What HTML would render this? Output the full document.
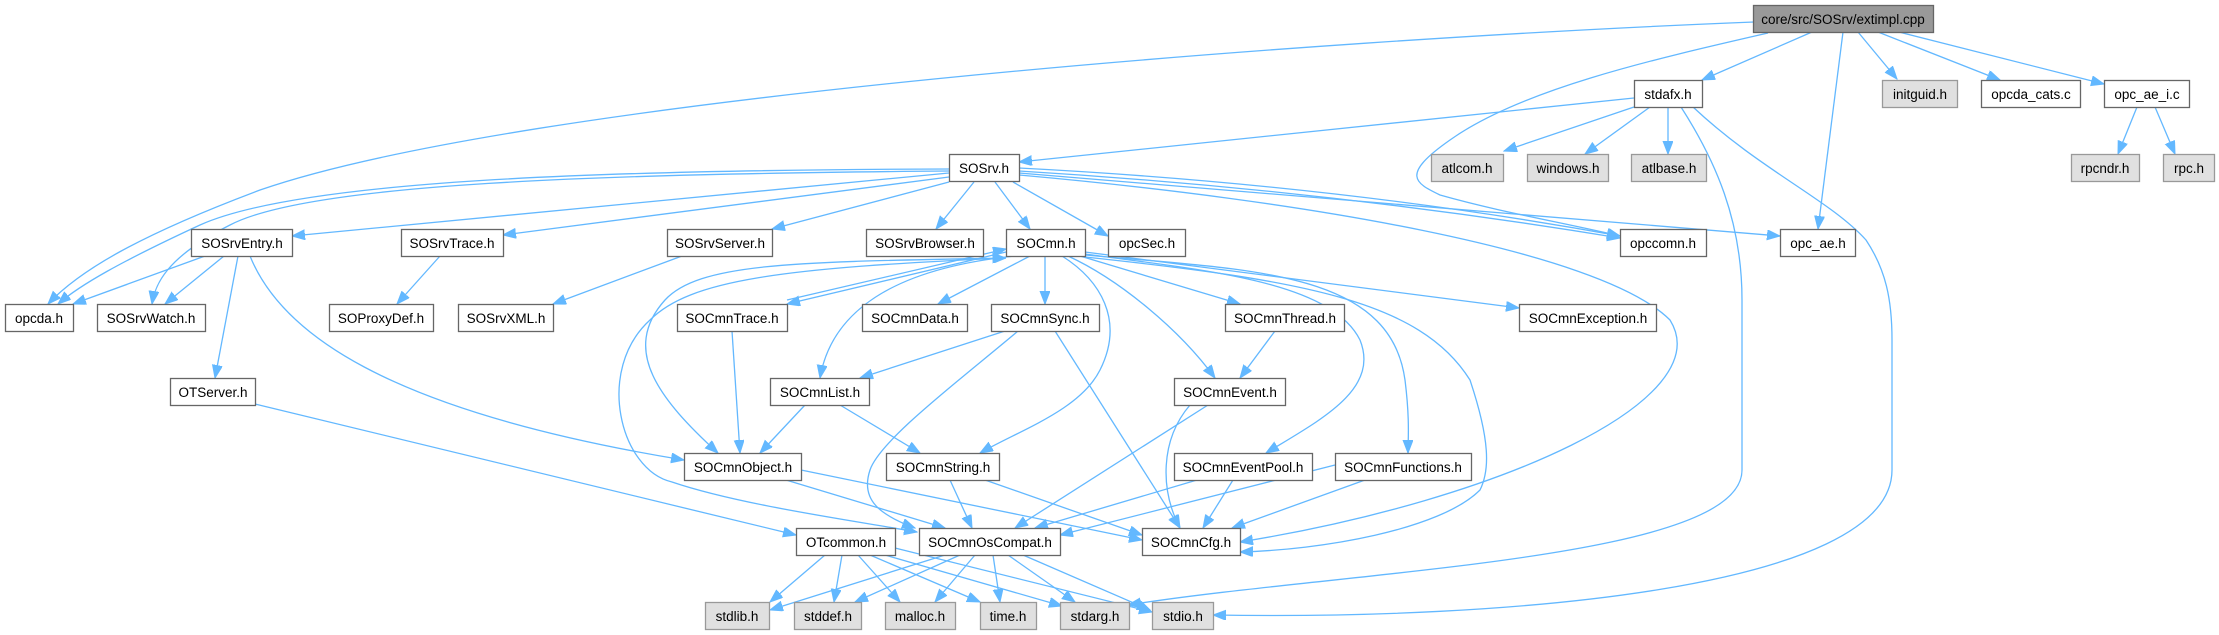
<!DOCTYPE html>
<html><head><meta charset="utf-8"><style>
html,body{margin:0;padding:0;background:#fff;width:2219px;height:635px;overflow:hidden}
svg{display:block}
text{font-family:"Liberation Sans",Helvetica,Arial,sans-serif;font-size:13.5px;fill:#000;text-anchor:middle}
.n{fill:#fff;stroke:#666;stroke-width:1.3}
.g{fill:#e0e0e0;stroke:#999;stroke-width:1.3}
.m{fill:#999;stroke:#666;stroke-width:1.3}
path{fill:none;stroke:#63b8ff;stroke-width:1.3}
</style></head><body>
<svg width="2219" height="635" viewBox="0 0 2219 635" xmlns="http://www.w3.org/2000/svg">
<defs>
<marker id="a" markerUnits="userSpaceOnUse" markerWidth="14" markerHeight="12" refX="13" refY="5" orient="auto"><path d="M0,0 L13,5 L0,10 Z" style="fill:#63b8ff;stroke:#63b8ff;stroke-width:1"/></marker>
<marker id="s" markerUnits="userSpaceOnUse" markerWidth="14" markerHeight="12" refX="0" refY="5" orient="auto"><path d="M13,0 L0,5 L13,10 Z" style="fill:#63b8ff;stroke:#63b8ff;stroke-width:1"/></marker>
</defs>
<g marker-end="url(#a)">
<path d="M1754,22 C1300,40 520,100 260,190 C140,235 80,270 48,304"/>
<path d="M1812,32 L1702,80"/>
<path d="M1768,33 C1650,60 1520,90 1450,140 C1400,175 1415,183 1440,195 C1500,212 1560,222 1620,236"/>
<path d="M1843,32 L1818,229"/>
<path d="M1858,32 L1897,79"/>
<path d="M1878,32 L2000,80"/>
<path d="M1899,32 L2104,84"/>
<path d="M1634,98 L1019,162"/>
<path d="M1634,107 L1504,151"/>
<path d="M1650,107 L1585,154"/>
<path d="M1668,107 L1668,154"/>
<path d="M1681,107 C1715,160 1742,220 1742,300 L1742,470 C1742,560 1350,570 1128,605"/>
<path d="M1693,107 C1760,170 1830,200 1866,240 C1886,270 1892,300 1892,340 L1892,470 C1892,590 1500,620 1213,615"/>
<path d="M2137,107 L2118,154"/>
<path d="M2155,107 L2175,154"/>
<path d="M949,169 C600,170 300,180 200,225 C120,262 80,285 58,304"/>
<path d="M949,171 C600,174 310,183 230,225 C165,258 155,285 152,304"/>
<path d="M949,173 L292,236"/>
<path d="M949,177 L503,235"/>
<path d="M949,182 L772,229"/>
<path d="M974,182 L936,229"/>
<path d="M995,182 L1030,229"/>
<path d="M1013,182 L1108,236"/>
<path d="M1019,168 C1250,180 1450,205 1620,236"/>
<path d="M1019,171 C1250,185 1450,210 1620,238"/>
<path d="M1019,173 C1300,195 1550,215 1780,236"/>
<path d="M1019,175 C1300,200 1600,250 1670,320 C1720,400 1500,500 1240,542"/>
<path d="M205,256 L73,304"/>
<path d="M224,256 L165,304"/>
<path d="M238,256 L215,378"/>
<path d="M250,256 C280,330 380,410 684,460"/>
<path d="M440,256 L397,304"/>
<path d="M682,256 L553,304"/>
<path d="M255,404 L796,535"/>
<path d="M1006,252 L787,304"/>
<path d="M787,300 L1006,249" />
<path d="M1006,258 C800,262 700,262 665,300 C620,350 660,400 718,453" marker-start="url(#s)"/>
<path d="M1006,258 C780,268 690,280 650,320 C595,370 620,470 672,482 C740,505 850,520 917,532"/>
<path d="M1015,256 C880,270 830,320 820,378"/>
<path d="M1030,256 L938,304"/>
<path d="M1045,256 L1045,304"/>
<path d="M1062,256 C1100,280 1125,320 1100,370 C1080,410 1020,430 980,453"/>
<path d="M1068,256 C1120,280 1180,330 1215,378"/>
<path d="M1080,256 L1240,304"/>
<path d="M1085,254 C1200,270 1330,280 1360,340 C1380,390 1320,420 1266,453"/>
<path d="M1085,255 C1250,270 1390,270 1405,380 C1410,420 1408,440 1408,453"/>
<path d="M1085,252 L1519,308"/>
<path d="M1085,257 C1300,280 1420,300 1470,380 C1490,440 1490,470 1480,490 C1440,530 1320,550 1240,552"/>
<path d="M732,331 L740,453"/>
<path d="M1005,331 L860,378"/>
<path d="M1018,331 C960,380 880,440 870,470 C860,500 880,515 915,528"/>
<path d="M1055,331 L1180,528"/>
<path d="M805,405 L760,453"/>
<path d="M840,405 L920,453"/>
<path d="M1275,331 L1240,378"/>
<path d="M1208,405 L1015,528"/>
<path d="M1190,405 C1160,440 1160,490 1180,528"/>
<path d="M786,480 L945,528"/>
<path d="M801,470 L1142,540"/>
<path d="M950,480 L972,528"/>
<path d="M985,480 L1142,535"/>
<path d="M1197,480 L1035,528"/>
<path d="M1233,480 L1203,528"/>
<path d="M1335,465 L1060,535"/>
<path d="M1365,480 L1232,528"/>
<path d="M825,555 L770,602"/>
<path d="M842,555 L834,602"/>
<path d="M858,555 L900,602"/>
<path d="M870,555 L980,602"/>
<path d="M885,555 L1062,606"/>
<path d="M895,548 L1152,612"/>
<path d="M945,555 L770,610"/>
<path d="M960,555 L855,602"/>
<path d="M975,555 L935,602"/>
<path d="M993,555 L1000,602"/>
<path d="M1008,555 L1075,602"/>
<path d="M1023,555 L1150,610"/>
</g>
<rect class="m" x="1753.5" y="5.5" width="180" height="27"/><text x="1843" y="24">core/src/SOSrv/extimpl.cpp</text>
<rect class="n" x="1634.5" y="80.5" width="68" height="27"/><text x="1668" y="99">stdafx.h</text>
<rect class="g" x="1882.5" y="80.5" width="75" height="27"/><text x="1920" y="99">initguid.h</text>
<rect class="n" x="1981.5" y="80.5" width="99" height="27"/><text x="2031" y="99">opcda_cats.c</text>
<rect class="n" x="2104.5" y="80.5" width="85" height="27"/><text x="2147" y="99">opc_ae_i.c</text>
<rect class="n" x="949.5" y="154.5" width="70" height="27"/><text x="984" y="173">SOSrv.h</text>
<rect class="g" x="1431.5" y="154.5" width="72" height="27"/><text x="1467" y="173">atlcom.h</text>
<rect class="g" x="1527.5" y="154.5" width="81" height="27"/><text x="1568" y="173">windows.h</text>
<rect class="g" x="1631.5" y="154.5" width="75" height="27"/><text x="1669" y="173">atlbase.h</text>
<rect class="g" x="2071.5" y="154.5" width="68" height="27"/><text x="2105" y="173">rpcndr.h</text>
<rect class="g" x="2163.5" y="154.5" width="51" height="27"/><text x="2189" y="173">rpc.h</text>
<rect class="n" x="191.5" y="229.5" width="101" height="27"/><text x="242" y="248">SOSrvEntry.h</text>
<rect class="n" x="401.5" y="229.5" width="102" height="27"/><text x="452" y="248">SOSrvTrace.h</text>
<rect class="n" x="667.5" y="229.5" width="105" height="27"/><text x="720" y="248">SOSrvServer.h</text>
<rect class="n" x="866.5" y="229.5" width="117" height="27"/><text x="925" y="248">SOSrvBrowser.h</text>
<rect class="n" x="1006.5" y="229.5" width="79" height="27"/><text x="1046" y="248">SOCmn.h</text>
<rect class="n" x="1108.5" y="229.5" width="77" height="27"/><text x="1147" y="248">opcSec.h</text>
<rect class="n" x="1620.5" y="229.5" width="86" height="27"/><text x="1663" y="248">opccomn.h</text>
<rect class="n" x="1780.5" y="229.5" width="75" height="27"/><text x="1818" y="248">opc_ae.h</text>
<rect class="n" x="5.5" y="304.5" width="68" height="27"/><text x="39" y="323">opcda.h</text>
<rect class="n" x="97.5" y="304.5" width="108" height="27"/><text x="151" y="323">SOSrvWatch.h</text>
<rect class="n" x="329.5" y="304.5" width="104" height="27"/><text x="381" y="323">SOProxyDef.h</text>
<rect class="n" x="458.5" y="304.5" width="95" height="27"/><text x="506" y="323">SOSrvXML.h</text>
<rect class="n" x="677.5" y="304.5" width="110" height="27"/><text x="732" y="323">SOCmnTrace.h</text>
<rect class="n" x="862.5" y="304.5" width="105" height="27"/><text x="915" y="323">SOCmnData.h</text>
<rect class="n" x="991.5" y="304.5" width="108" height="27"/><text x="1045" y="323">SOCmnSync.h</text>
<rect class="n" x="1225.5" y="304.5" width="119" height="27"/><text x="1285" y="323">SOCmnThread.h</text>
<rect class="n" x="1519.5" y="304.5" width="137" height="27"/><text x="1588" y="323">SOCmnException.h</text>
<rect class="n" x="170.5" y="378.5" width="85" height="27"/><text x="213" y="397">OTServer.h</text>
<rect class="n" x="770.5" y="378.5" width="99" height="27"/><text x="820" y="397">SOCmnList.h</text>
<rect class="n" x="1174.5" y="378.5" width="111" height="27"/><text x="1230" y="397">SOCmnEvent.h</text>
<rect class="n" x="684.5" y="453.5" width="117" height="27"/><text x="743" y="472">SOCmnObject.h</text>
<rect class="n" x="886.5" y="453.5" width="113" height="27"/><text x="943" y="472">SOCmnString.h</text>
<rect class="n" x="1174.5" y="453.5" width="138" height="27"/><text x="1243" y="472">SOCmnEventPool.h</text>
<rect class="n" x="1335.5" y="453.5" width="136" height="27"/><text x="1403" y="472">SOCmnFunctions.h</text>
<rect class="n" x="796.5" y="528.5" width="99" height="27"/><text x="846" y="547">OTcommon.h</text>
<rect class="n" x="919.5" y="528.5" width="141" height="27"/><text x="990" y="547">SOCmnOsCompat.h</text>
<rect class="n" x="1142.5" y="528.5" width="98" height="27"/><text x="1191" y="547">SOCmnCfg.h</text>
<rect class="g" x="705.5" y="602.5" width="64" height="27"/><text x="737" y="621">stdlib.h</text>
<rect class="g" x="794.5" y="602.5" width="67" height="27"/><text x="828" y="621">stddef.h</text>
<rect class="g" x="885.5" y="602.5" width="70" height="27"/><text x="920" y="621">malloc.h</text>
<rect class="g" x="980.5" y="602.5" width="56" height="27"/><text x="1008" y="621">time.h</text>
<rect class="g" x="1060.5" y="602.5" width="69" height="27"/><text x="1095" y="621">stdarg.h</text>
<rect class="g" x="1152.5" y="602.5" width="61" height="27"/><text x="1183" y="621">stdio.h</text>
</svg>
</body></html>
